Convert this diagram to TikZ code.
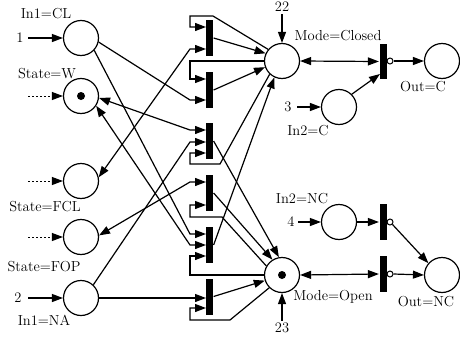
\documentclass[tikz,border=0pt]{standalone}
\usetikzlibrary{arrows.meta}
\begin{document}
\begin{tikzpicture}[x=1pt,y=-1pt,line width=1.2pt,
  place/.style={circle,draw,minimum size=35pt,inner sep=0pt,line width=1.2pt},
  bar/.style={rectangle,fill=black,minimum width=7pt,minimum height=36pt,inner sep=0pt},
  inh/.style={circle,draw,fill=white,minimum size=6pt,inner sep=0pt,line width=1pt},
  tok/.style={circle,fill=black,minimum size=8pt,inner sep=0pt},
  lbl/.style={font=\fontsize{14.5}{17}\selectfont,inner sep=0pt},
  arr/.style={-{Triangle[length=11pt,width=8pt]}},
  barr/.style={{Triangle[length=11pt,width=8pt]}-{Triangle[length=11pt,width=8pt]}},
  feed/.style={arr,line width=1pt,dash pattern=on 2pt off 2pt}]
\useasboundingbox (0,0) rectangle (460,340);

% places, left column
\node[place] (p1)   at (81,38)  {};
\node[place] (pw)   at (81,96)  {};
\node[tok]   (pwt)  at (pw)     {};
\node[place] (pfcl) at (81,181) {};
\node[place] (pfop) at (81,237) {};
\node[place] (pna)  at (81,298) {};
% mode places
\node[place] (pc) at (282,61)  {};
\node[place] (po) at (282,275) {};
\node[tok]   (pot) at (po) {};
% right column places
\node[place] (pin2c)  at (339,107) {};
\node[place] (pin2nc) at (339,222) {};
\node[place] (outc)   at (442,61)  {};
\node[place] (outnc)  at (442,275) {};

% transitions
\node[bar] (t1) at (209.5,38)  {};
\node[bar] (t2) at (209.5,90)  {};
\node[bar] (t3) at (209.5,141) {};
\node[bar] (t4) at (209.5,193) {};
\node[bar] (t5) at (209.5,245) {};
\node[bar] (t6) at (209.5,296.5) {};
\node[bar,minimum height=35pt] (tc)   at (383,61.5) {};
\node[bar] (tnc1) at (383,222) {};
\node[bar] (tnc2) at (383,274) {};
\node[inh] (ic)   at (390,61)  {};
\node[inh] (inc1) at (390,222) {};
\node[inh] (inc2) at (390,274) {};

% input ports on the bars
\coordinate (t1a) at (206,27);  \coordinate (t1b) at (206,49);
\coordinate (t2a) at (206,79);  \coordinate (t2b) at (206,100);
\coordinate (t3a) at (206,130); \coordinate (t3b) at (206,142); \coordinate (t3c) at (206,153);
\coordinate (t4a) at (206,182); \coordinate (t4b) at (206,205);
\coordinate (t5a) at (206,234); \coordinate (t5b) at (206,245); \coordinate (t5c) at (206,256);
\coordinate (t6a) at (206,298); \coordinate (t6b) at (206,308);
\coordinate (tcb) at (380,74);

% external inputs
\coordinate (e1) at (28,38);   \coordinate (ew) at (28,96);
\coordinate (efcl) at (28,181); \coordinate (efop) at (28,237);
\coordinate (e2) at (28,298);
\coordinate (e3) at (297,107); \coordinate (e4) at (298,222);
\coordinate (e22) at (282,14); \coordinate (e23) at (282,321);
\draw[arr] (e1) -- (p1.west);
\draw[feed] (ew) -- (pw.west);
\draw[feed] (efcl) -- (pfcl.west);
\draw[feed] (efop) -- (pfop.west);
\draw[arr] (e2) -- (pna.west);
\draw[arr] (e3) -- (pin2c.west);
\draw[arr] (e4) -- (pin2nc.west);
\draw[arr] (e22) -- (pc.north);
\draw[arr] (e23) -- (po.south);

% arcs from command and state places
\draw[arr]  (p1.-13)  -- ([xshift=-16pt]t2b) -- (t2b);
\draw[arr]  (p1.-43)  -- ([xshift=-16pt]t5a) -- (t5a);
\draw[barr] (pw.-6)   -- ([xshift=-16pt]t3a) -- (t3a);
\draw[barr] (pw.-33)  -- ([xshift=-16pt]t5b) -- (t5b);
\draw[barr] (pfcl.12) -- ([xshift=-16pt]t1b) -- (t1b);
\draw[barr] (pfop.5)  -- ([xshift=-16pt]t4a) -- (t4a);
\draw[arr]  (pna.47)  -- ([xshift=-16pt]t3b) -- (t3b);
\draw[arr]  (pna.east) -- (t6a);

% arcs from the mode places, routed round the bars
\draw[arr] (pc.140) -- (213,16) -- (190,16) -- (190,27) -- (t1a);
\draw[arr] (pc.west) -- (190,61) -- (190,79) -- (t2a);
\draw[arr] (pc.227) -- (220,164) -- (190,164) -- (190,153) -- (t3c);
\draw[arr] (po.150) -- (222,217) -- (190,217) -- (190,205) -- (t4b);
\draw[arr] (po.west) -- (190,275) -- (190,256) -- (t5c);
\draw[arr] (po.225) -- (230,320) -- (190,320) -- (190,308) -- (t6b);

% outputs to the mode places
\draw[arr] (t1.east) -- (pc.155);
\draw[arr] (t2.east) -- (pc.200);
\draw[arr] (t3.east) -- (po.100);
\draw[arr] (t4.east) -- (po.122);
\draw[arr] (t5.east) -- (pc.245);
\draw[arr] (t6.east) -- (po.198);

% output stage
\draw[barr] (pc.east) -- (tc.west);
\draw[arr] (pin2c.45) -- (tcb);
\draw[arr] (ic.east) -- (outc.west);
\draw[arr] (pin2nc.east) -- (tnc1.west);
\draw[arr] (inc1.-45) -- (outnc.139);
\draw[barr] (po.east) -- (tnc2.west);
\draw[arr] (inc2.east) -- (outnc.west);

% labels
\node[lbl] (l1)  at (46,14)   {In1=CL};
\node[lbl] (l2)  at (20,38)   {1};
\node[lbl] (l3)  at (47,74)   {State=W};
\node[lbl] (l4)  at (45,207)  {State=FCL};
\node[lbl] (l5)  at (44,267)  {State=FOP};
\node[lbl] (l6)  at (18,298)  {2};
\node[lbl] (l7)  at (44,320)  {In1=NA};
\node[lbl] (l8)  at (282,7)   {22};
\node[lbl] (l9)  at (338,36)  {Mode=Closed};
\node[lbl] (l10) at (288,107) {3};
\node[lbl] (l11) at (308,131) {In2=C};
\node[lbl] (l12) at (423,87)  {Out=C};
\node[lbl] (l13) at (302,199) {In2=NC};
\node[lbl] (l14) at (291,222) {4};
\node[lbl] (l15) at (333,297) {Mode=Open};
\node[lbl] (l16) at (426,302) {Out=NC};
\node[lbl] (l17) at (282,328) {23};
\end{tikzpicture}
\end{document}
